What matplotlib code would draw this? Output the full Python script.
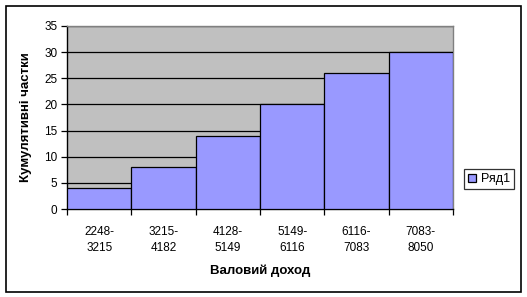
import matplotlib
matplotlib.use("Agg")
import matplotlib.pyplot as plt
from matplotlib.patches import Rectangle

categories = ["2248-\n3215", "3215-\n4182", "4128-\n5149", "5149-\n6116", "6116-\n7083", "7083-\n8050"]
values = [4, 8, 14, 20, 26, 30]
series_name = "Ряд1"
y_ticks = [0, 5, 10, 15, 20, 25, 30, 35]

plt.rcParams['font.family'] = ['Liberation Sans', 'DejaVu Sans']

fig = plt.figure(figsize=(5.27, 2.97), dpi=100)
fig.patches.append(Rectangle((6/527, 5/297), 515/527, 286/297, transform=fig.transFigure,
                             fill=False, edgecolor='black', linewidth=1.2))

ax = fig.add_axes([67/527, 88/297, 386/527, 183/297])
ax.set_facecolor('#C0C0C0')
x = list(range(len(values)))
bars = ax.bar(x, values, width=1.0, color='#9999FF', edgecolor='black', linewidth=0.9,
              label=series_name, zorder=3)
ax.set_xlim(-0.5, len(values) - 0.5)
ax.set_ylim(0, 35)
ax.set_yticks(y_ticks)
ax.yaxis.grid(True, color='black', linewidth=0.9, zorder=1)
ax.set_axisbelow(True)

ax.set_xticks([i - 0.5 for i in range(len(values) + 1)])
ax.set_xticklabels([])
ax.set_xticks(x, minor=True)
ax.set_xticklabels(categories, minor=True, fontsize=8.5, linespacing=1.45)
ax.tick_params(axis='x', which='minor', length=0, pad=12)
ax.tick_params(axis='x', which='major', length=4, width=0.9, direction='out')
ax.tick_params(axis='y', length=4, width=0.9, labelsize=8.5, direction='out', pad=3)

for s in ['top', 'right']:
    ax.spines[s].set_color('#808080')
    ax.spines[s].set_linewidth(1.0)
for s in ['left', 'bottom']:
    ax.spines[s].set_color('black')
    ax.spines[s].set_linewidth(1.0)

ax.set_ylabel("Кумулятивні частки", fontsize=9.5, fontweight='bold', labelpad=9)
ax.set_xlabel("Валовий доход", fontsize=9.5, fontweight='bold', labelpad=8)

leg = ax.legend(loc='center left', bbox_to_anchor=(464/527, 118/297), bbox_transform=fig.transFigure,
                fontsize=9, frameon=True, fancybox=False, handlelength=0.6, handleheight=0.6,
                handletextpad=0.4, borderpad=0.35, borderaxespad=0)
leg.get_frame().set_edgecolor('black')
leg.get_frame().set_linewidth(0.9)

fig.savefig("out.png", dpi=100)
